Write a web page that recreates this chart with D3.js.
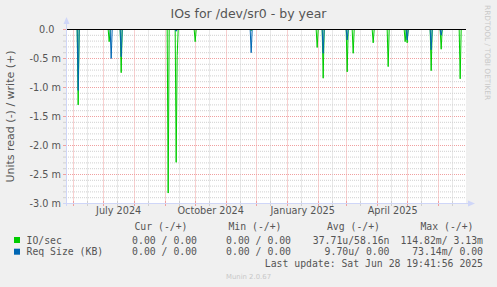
<!DOCTYPE html>
<html>
<head>
<meta charset="utf-8">
<script src="https://cdn.jsdelivr.net/npm/d3@7/dist/d3.min.js"></script>
<style>
  body { margin: 0; background: #f0f0f0; }
  svg { display: block; font-family: "DejaVu Sans", sans-serif; }
  .mono { font-family: "DejaVu Sans Mono", monospace; }
</style>
</head>
<body>
<script>
// read values in milli-units (drawn below zero)
var ioDates = ["2024-06-06", "2024-07-07", "2024-07-19", "2024-09-04", "2024-09-12",
  "2024-09-13", "2024-10-01", "2024-11-26", "2025-01-31", "2025-02-06", "2025-03-02",
  "2025-03-08", "2025-03-28", "2025-04-12", "2025-04-29", "2025-05-01", "2025-05-25",
  "2025-06-04", "2025-06-23"];
var ioRead = [1.30, 0.21, 0.745, 2.82, 2.29, 0.45, 0.21, 0.02, 0.31, 0.84, 0.73,
  0.41, 0.23, 0.64, 0.21, 0.23, 0.71, 0.34, 0.85];

var reqDates = ["2024-06-06", "2024-07-09", "2024-07-19", "2024-09-12", "2024-11-26",
  "2025-02-06", "2025-03-02", "2025-05-01", "2025-05-25", "2025-06-04"];
var reqRead = [1.05, 0.50, 0.47, 0.03, 0.40, 0.41, 0.18, 0.18, 0.35, 0.10];

var yTicks = [0, -0.5, -1.0, -1.5, -2.0, -2.5, -3.0];
var xLabels = ["2024-07-16", "2024-10-16", "2025-01-16", "2025-04-16"];

var legendRows = [
  {name: "IO/sec", color: "#00cc00", cur: "0.00 / 0.00", min: "0.00 / 0.00", avg: "37.71u/58.16n", max: "114.82m/ 3.13m"},
  {name: "Req Size (KB)", color: "#0066b3", cur: "0.00 / 0.00", min: "0.00 / 0.00", avg: " 9.70u/ 0.00", max: " 73.14m/ 0.00"}
];

var W = 497, H = 287;
var parse = d3.timeParse("%Y-%m-%d");
var endTime = new Date(2025, 5, 28, 19, 41, 56);
var startTime = d3.timeDay.offset(endTime, -400);

var svg = d3.select("body").append("svg").attr("width", W).attr("height", H);
svg.append("rect").attr("width", W).attr("height", H).attr("fill", "#f0f0f0");

var x = d3.scaleTime().domain([startTime, endTime]).range([66, 466]);
var y = d3.scaleLinear().domain([-3, 0]).range([203.5, 29.5]);

svg.append("rect").attr("x", 66).attr("y", 29.5).attr("width", 400).attr("height", 174).attr("fill", "#fff");

// grid
var grid = svg.append("g");
d3.range(-30, 1).forEach(function(i) {
  var major = i % 5 === 0;
  grid.append("line").attr("x1", 66).attr("x2", 466)
    .attr("y1", y(i / 10)).attr("y2", y(i / 10))
    .attr("stroke", major ? "#f0a0a0" : "#d0d0d0")
    .attr("stroke-dasharray", "1,1");
  grid.append("line").attr("x1", 63).attr("x2", 66)
    .attr("y1", y(i / 10)).attr("y2", y(i / 10))
    .attr("stroke", major ? "#f0a0a0" : "#d0d0d0");
});
var months = d3.timeMonth.range(startTime, endTime);
var mids = months.map(function(m) { return d3.timeDay.offset(m, 14); })
  .filter(function(d) { return d > startTime && d < endTime; });
mids.forEach(function(d) {
  var xx = Math.round(x(d)) + 0.5;
  grid.append("line").attr("x1", xx).attr("x2", xx).attr("y1", 29.5).attr("y2", 203.5)
    .attr("stroke", "#d0d0d0").attr("stroke-dasharray", "1,1");
  grid.append("line").attr("x1", xx).attr("x2", xx).attr("y1", 201).attr("y2", 206)
    .attr("stroke", "#d0d0d0");
});
months.forEach(function(d) {
  var xx = Math.round(x(d)) + 0.5;
  grid.append("line").attr("x1", xx).attr("x2", xx).attr("y1", 29.5).attr("y2", 203.5)
    .attr("stroke", "#f0a0a0").attr("stroke-dasharray", "1,1");
  grid.append("line").attr("x1", xx).attr("x2", xx).attr("y1", 201).attr("y2", 206)
    .attr("stroke", "#f0a0a0");
});

// series
var days = d3.timeDay.range(d3.timeDay.ceil(startTime), endTime);
function series(dates, vals) {
  var m = new Map();
  dates.forEach(function(d, i) { m.set(+parse(d), vals[i]); });
  return days.map(function(d) { return {t: d, v: -(m.get(+d) || 0)}; });
}
var line = d3.line().x(function(d) { return x(d.t); }).y(function(d) { return y(d.v); });
svg.append("path").attr("d", line(series(ioDates, ioRead)))
  .attr("fill", "none").attr("stroke", "#00cc00").attr("stroke-width", 1);
svg.append("path").attr("d", line(series(reqDates, reqRead)))
  .attr("fill", "none").attr("stroke", "#0066b3").attr("stroke-width", 1);

// zero rule
svg.append("line").attr("x1", 66).attr("x2", 466).attr("y1", 29.5).attr("y2", 29.5)
  .attr("stroke", "#000");

// axes frame
svg.append("line").attr("x1", 66.5).attr("x2", 66.5).attr("y1", 206).attr("y2", 22)
  .attr("stroke", "#cfd6f8");
svg.append("line").attr("x1", 63).attr("x2", 469).attr("y1", 203.5).attr("y2", 203.5)
  .attr("stroke", "#cfd6f8");
svg.append("path").attr("d", "M63.5,24 L66.5,17 L69.5,24 Z").attr("fill", "#cfd6f8");
svg.append("path").attr("d", "M468,200.5 L475,203.5 L468,206.5 Z").attr("fill", "#cfd6f8");

// y axis labels
var yAxis = d3.axisLeft(y).tickValues(yTicks).tickSize(0).tickPadding(0)
  .tickFormat(function(v) { return v === 0 ? "0.0" : v.toFixed(1) + " m"; });
var gy = svg.append("g").attr("transform", "translate(61,0)").call(yAxis);
gy.select(".domain").remove();
gy.selectAll("text").attr("font-family", "DejaVu Sans").attr("font-size", 9.7)
  .attr("fill", "#555").attr("dy", "0.35em")
  .attr("dx", function(v) { return v === 0 ? -6.5 : 0; });

// x axis labels
var xAxis = d3.axisBottom(x).tickValues(xLabels.map(parse)).tickSize(0).tickPadding(0)
  .tickFormat(d3.timeFormat("%B %Y"));
var gx = svg.append("g").attr("transform", "translate(0,207)").call(xAxis);
gx.select(".domain").remove();
gx.selectAll("text").attr("font-family", "DejaVu Sans").attr("font-size", 9.7)
  .attr("fill", "#555").attr("dy", "0.71em");

// title
svg.append("text").attr("x", 248.5).attr("y", 18).attr("text-anchor", "middle")
  .attr("font-size", 12.5).attr("fill", "#555").text("IOs for /dev/sr0 - by year");

// unit label
svg.append("text").attr("transform", "translate(14,116.5) rotate(-90)")
  .attr("text-anchor", "middle").attr("font-size", 11).attr("fill", "#555")
  .text("Units read (-) / write (+)");

// watermark
svg.append("text").attr("transform", "translate(485,5) rotate(90)")
  .attr("font-size", 7.4).attr("fill", "#c8c8c8").text("RRDTOOL / TOBI OETIKER");
svg.append("text").attr("x", 248.5).attr("y", 279).attr("text-anchor", "middle")
  .attr("font-size", 6.9).attr("fill", "#c8c8c8").text("Munin 2.0.67");

// legend
var lg = svg.append("g").attr("class", "mono").attr("font-size", 9.8).attr("fill", "#555")
  .style("white-space", "pre");
var cols = [
  {key: "cur", head: "Cur (-/+)", end: 197},
  {key: "min", head: "Min (-/+)", end: 291},
  {key: "avg", head: "Avg (-/+)", end: 389.5},
  {key: "max", head: "Max (-/+)", end: 483}
];
cols.forEach(function(c) {
  lg.append("text").attr("x", c.end - 9.5).attr("y", 230).attr("text-anchor", "end").text(c.head);
});
legendRows.forEach(function(r, i) {
  var by = 243.5 + i * 11.7;
  lg.append("rect").attr("x", 14).attr("y", by - 6.5).attr("width", 6).attr("height", 6)
    .attr("fill", r.color);
  lg.append("text").attr("x", 26.5).attr("y", by).text(r.name);
  cols.forEach(function(c) {
    lg.append("text").attr("x", c.end).attr("y", by).attr("text-anchor", "end").text(r[c.key]);
  });
});
lg.append("text").attr("x", 483).attr("y", 266.5).attr("text-anchor", "end")
  .text("Last update: Sat Jun 28 19:41:56 2025");
</script>
</body>
</html>
